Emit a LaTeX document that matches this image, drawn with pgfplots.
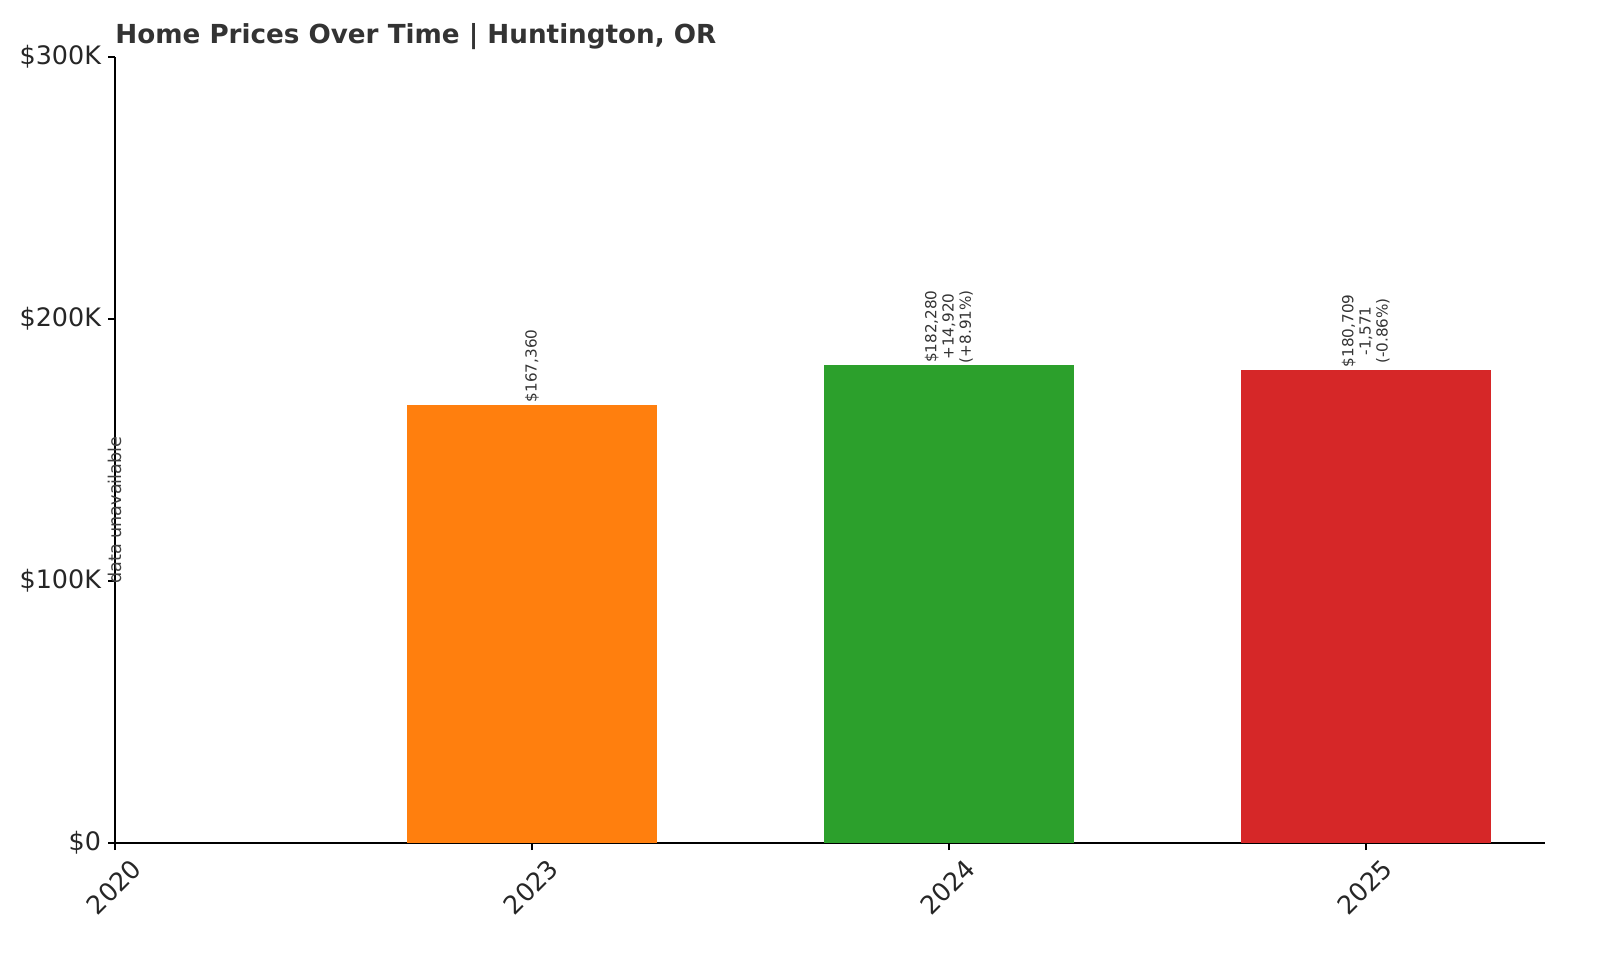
\documentclass[border=0pt]{standalone}
\usepackage{pgfplots}
\pgfplotsset{compat=1.18}
\usepackage{fontspec}
\setmainfont{DejaVu Sans}
\definecolor{barorange}{HTML}{FF7F0E}
\definecolor{bargreen}{HTML}{2CA02C}
\definecolor{barred}{HTML}{D62728}
\definecolor{txt}{HTML}{333333}
\begin{document}
\begin{tikzpicture}
  \begin{axis}[
    at={(57.5pt,58.5pt)},
    anchor=south west,
    scale only axis,
    width=715pt,
    height=393pt,
    axis x line*=bottom,
    axis y line*=left,
    axis line style={line width=0.8pt, black},
    xmin=0, xmax=3.43,
    ymin=0, ymax=300000,
    xtick={0,1,2,3},
    xticklabels={2020,2023,2024,2025},
    ytick={0,100000,200000,300000},
    yticklabels={\$0,\$100K,\$200K,\$300K},
    scaled y ticks=false,
    tick style={black, line width=0.8pt},
    tick align=outside,
    major tick length=3.5pt,
    ticklabel style={font=\fontsize{12.7}{15}\selectfont, text=black!85},
    xticklabel style={yshift=-18.5pt, xshift=-0.5pt, rotate=45, anchor=center},
    /pgf/number format/assume math mode=true,
    clip=false,
  ]
    \addplot[ybar, bar width=0.6, bar shift=0pt, fill=barorange, draw=none] coordinates {(1,167360)};
    \addplot[ybar, bar width=0.6, bar shift=0pt, fill=bargreen, draw=none] coordinates {(2,182280)};
    \addplot[ybar, bar width=0.6, bar shift=0pt, fill=barred, draw=none] coordinates {(3,180709)};

    \node[rotate=90, anchor=west, align=center, inner sep=1pt, text=txt,
      font=\fontsize{7.6}{8.6}\selectfont] at (axis cs:1,167360) {\$167,360};
    \node[rotate=90, anchor=west, align=center, inner sep=1pt, text=txt,
      font=\fontsize{7.6}{8.6}\selectfont] at (axis cs:2,182280) {\$182,280\\+14,920\\(+8.91\%)};
    \node[rotate=90, anchor=west, align=center, inner sep=1pt, text=txt,
      font=\fontsize{7.6}{8.6}\selectfont] at (axis cs:3,180709) {\$180,709\\-1,571\\(-0.86\%)};
    \node[rotate=90, anchor=center, inner sep=0pt, text=black!75,
      font=\fontsize{8.8}{10}\selectfont] at (axis cs:0,127000) {data unavailable};
  \end{axis}
  \node[anchor=base west, inner sep=0pt, text=txt, font=\bfseries\fontsize{13.1}{15}\selectfont]
    at (57.5pt,458pt) {Home Prices Over Time | Huntington, OR};
  \useasboundingbox (0,0) rectangle (800pt,480pt);
\end{tikzpicture}
\end{document}
